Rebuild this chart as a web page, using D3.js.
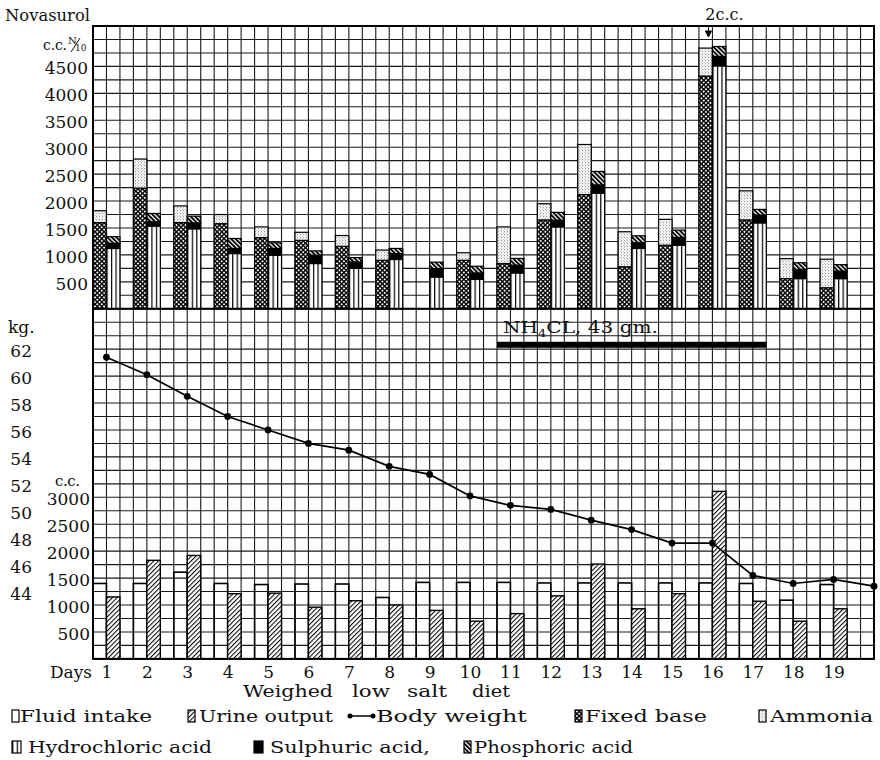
<!DOCTYPE html>
<html>
<head>
<meta charset="utf-8">
<script src="https://cdn.jsdelivr.net/npm/d3@7/dist/d3.min.js"></script>
<style>
  body { margin: 0; background: #fff; }
  text { font-family: "DejaVu Serif", serif; fill: #111; }
</style>
</head>
<body>
<svg id="chart" width="880" height="760"></svg>
<script>
// ---- data ----
var days = d3.range(1, 20);
// urine, c.c. N/10 (top panel)
var fixedBase = [1600, 2240, 1600, 1580, 1320, 1270, 1160, 900, 0, 900, 840, 1650, 2120, 780, 1180, 4320, 1650, 560, 390];
var ammonia   = [220, 540, 310, 170, 200, 150, 200, 190, 0, 140, 680, 300, 930, 650, 480, 520, 540, 370, 530];
var hydrochloric = [1120, 1535, 1485, 1025, 995, 840, 750, 915, 590, 545, 665, 1520, 2145, 1120, 1180, 4510, 1595, 560, 560];
var sulphuric    = [95, 80, 110, 95, 125, 155, 120, 110, 155, 120, 145, 125, 155, 105, 145, 175, 145, 170, 140];
var phosphoric   = [125, 155, 125, 185, 105, 80, 80, 95, 120, 125, 125, 145, 250, 130, 135, 185, 105, 125, 120];
var topTicks = [500, 1000, 1500, 2000, 2500, 3000, 3500, 4000, 4500];
// body weight, kg (day 1 .. day 20)
var weight = [61.4, 60.1, 58.5, 57.0, 56.0, 55.0, 54.5, 53.3, 52.7, 51.1, 50.4, 50.1, 49.3, 48.6, 47.6, 47.6, 45.2, 44.6, 44.9, 44.4];
var kgTicks = [44, 46, 48, 50, 52, 54, 56, 58, 60, 62];
// fluid balance, c.c.
var fluidIntake = [1400, 1400, 1610, 1400, 1380, 1390, 1390, 1140, 1420, 1420, 1420, 1410, 1410, 1410, 1410, 1410, 1400, 1090, 1380];
var urineOutput = [1150, 1830, 1920, 1210, 1220, 960, 1080, 1000, 900, 700, 840, 1170, 1760, 930, 1210, 3110, 1070, 700, 930];
var ccTicks = [500, 1000, 1500, 2000, 2500, 3000];
var nh4clDays = [11, 17];
var novasurolDay = 16;

// ---- layout ----
var svg = d3.select("#chart");
var gLeft = 93, gRight = 874, gTop = 26;
var cell = (gRight - gLeft) / 58;
var midY = gTop + 21 * cell, gBottom = gTop + 47 * cell;

var x = d3.scaleLinear().domain([2 / 3, 20]).range([gLeft, gRight]);
var yTop = d3.scaleLinear().domain([0, 5250]).range([midY, gTop]);
var yKg = d3.scaleLinear().domain([39, 65]).range([gBottom, midY]);
var yCc = d3.scaleLinear().domain([0, 6500]).range([gBottom, midY]);

// ---- patterns ----
var defs = svg.append("defs");
function hatch(id, angle, size, lw, dark) {
  var p = defs.append("pattern").attr("id", id)
    .attr("patternUnits", "userSpaceOnUse")
    .attr("width", size).attr("height", size)
    .attr("patternTransform", "rotate(" + angle + ")");
  p.append("rect").attr("width", size).attr("height", size).attr("fill", "#fff");
  p.append("rect").attr("width", lw).attr("height", size).attr("fill", dark);
  return p;
}
var pf = hatch("pFixed", 45, 3.2, 1.4, "#000");
pf.append("rect").attr("width", 3.2).attr("height", 1.4).attr("fill", "#000");
hatch("pUrine", 45, 3.3, 1.0, "#000");
hatch("pPhos", -45, 3.2, 1.9, "#000");

var pv = defs.append("pattern").attr("id", "pHcl")
  .attr("patternUnits", "userSpaceOnUse")
  .attr("x", x(1)).attr("width", cell / 3).attr("height", 10);
pv.append("rect").attr("width", cell / 3).attr("height", 10).attr("fill", "#fff");
pv.append("rect").attr("width", 1.2).attr("height", 10).attr("fill", "#000");

var ps = defs.append("pattern").attr("id", "pAmm")
  .attr("patternUnits", "userSpaceOnUse").attr("width", 3).attr("height", 3);
ps.append("rect").attr("width", 3).attr("height", 3).attr("fill", "#fff");
ps.append("circle").attr("cx", 0.7).attr("cy", 0.7).attr("r", 0.55).attr("fill", "#444");
ps.append("circle").attr("cx", 2.2).attr("cy", 2.2).attr("r", 0.45).attr("fill", "#666");

// ---- grid ----
var grid = svg.append("g").attr("stroke", "#1a1a1a").attr("stroke-width", 1.1);
grid.selectAll("line.v")
  .data(d3.range(0, 59).map(function (c) { return 2 / 3 + c / 3; }))
  .enter().append("line")
  .attr("x1", function (d) { return x(d); }).attr("x2", function (d) { return x(d); })
  .attr("y1", gTop).attr("y2", gBottom);
grid.selectAll("line.ht")
  .data(d3.range(0, 5251, 250))
  .enter().append("line")
  .attr("x1", gLeft).attr("x2", gRight)
  .attr("y1", function (d) { return yTop(d); }).attr("y2", function (d) { return yTop(d); });
grid.selectAll("line.hb")
  .data(d3.range(0, 6501, 250))
  .enter().append("line")
  .attr("x1", gLeft).attr("x2", gRight)
  .attr("y1", function (d) { return yCc(d); }).attr("y2", function (d) { return yCc(d); });

// ---- top panel stacked bars ----
var baseRows = days.map(function (d, i) { return { day: d, fixed: fixedBase[i], ammonia: ammonia[i] }; });
var acidRows = days.map(function (d, i) { return { day: d, hcl: hydrochloric[i], so4: sulphuric[i], po4: phosphoric[i] }; });
var baseStack = d3.stack().keys(["fixed", "ammonia"])(baseRows);
var acidStack = d3.stack().keys(["hcl", "so4", "po4"])(acidRows);
var fills = { fixed: "url(#pFixed)", ammonia: "url(#pAmm)", hcl: "url(#pHcl)", so4: "#000", po4: "url(#pPhos)" };

function drawStack(series, offset) {
  svg.append("g").selectAll("g").data(series).enter().append("g")
    .attr("fill", function (s) { return fills[s.key]; })
    .selectAll("rect")
    .data(function (s) { return s.filter(function (seg) { return seg[1] > seg[0]; }); })
    .enter().append("rect")
    .attr("x", function (seg) { return x(seg.data.day + offset); })
    .attr("width", cell)
    .attr("y", function (seg) { return yTop(seg[1]); })
    .attr("height", function (seg) { return yTop(seg[0]) - yTop(seg[1]); })
    .attr("stroke", "#000").attr("stroke-width", 1.2);
}
drawStack(baseStack, -1 / 3);
drawStack(acidStack, 0);

// ---- bottom panel bars ----
svg.append("g").selectAll("rect").data(fluidIntake).enter().append("rect")
  .attr("x", function (v, i) { return x(days[i] - 1 / 3); })
  .attr("width", cell)
  .attr("y", function (v) { return yCc(v); })
  .attr("height", function (v) { return yCc(0) - yCc(v); })
  .attr("fill", "none").attr("stroke", "#000").attr("stroke-width", 1.6);
svg.append("g").selectAll("rect").data(urineOutput).enter().append("rect")
  .attr("x", function (v, i) { return x(days[i]); })
  .attr("width", cell)
  .attr("y", function (v) { return yCc(v); })
  .attr("height", function (v) { return yCc(0) - yCc(v); })
  .attr("fill", "url(#pUrine)").attr("stroke", "#000").attr("stroke-width", 1.4);

// ---- body weight ----
var line = d3.line().x(function (v, i) { return x(i + 1); }).y(function (v) { return yKg(v); });
svg.append("path").datum(weight).attr("d", line)
  .attr("fill", "none").attr("stroke", "#000").attr("stroke-width", 1.7);
svg.append("g").selectAll("circle").data(weight).enter().append("circle")
  .attr("cx", function (v, i) { return x(i + 1); })
  .attr("cy", function (v) { return yKg(v); })
  .attr("r", 3.4).attr("fill", "#000");

// ---- frame ----
var frame = svg.append("g").attr("fill", "none").attr("stroke", "#000").attr("stroke-width", 2);
frame.append("rect").attr("x", gLeft).attr("y", gTop).attr("width", gRight - gLeft).attr("height", gBottom - gTop);
frame.append("line").attr("x1", gLeft).attr("x2", gRight).attr("y1", midY).attr("y2", midY);

// ---- NH4Cl period ----
svg.append("rect")
  .attr("x", x(nh4clDays[0] - 1 / 3)).attr("width", x(nh4clDays[1] + 1 / 3) - x(nh4clDays[0] - 1 / 3))
  .attr("y", midY + 33).attr("height", 6).attr("fill", "#000");
var nh = svg.append("text").attr("x", x(nh4clDays[0] - 1 / 3) + 6).attr("y", midY + 24)
  .attr("font-size", 17).attr("textLength", 155).attr("lengthAdjust", "spacingAndGlyphs");
nh.append("tspan").text("NH");
nh.append("tspan").attr("font-size", 11).attr("dy", 4).text("4");
nh.append("tspan").attr("dy", -4).text("CL,  43 gm.");

// ---- Novasurol injection ----
var nx = x(novasurolDay);
svg.append("text").attr("x", nx + 12).attr("y", 20).attr("text-anchor", "middle")
  .attr("font-size", 16).text("2c.c.");
svg.append("path")
  .attr("d", "M" + (nx - 4) + "," + (gTop + 1) + "V" + (gTop + 6)
    + "M" + (nx - 7) + "," + (gTop + 5) + "H" + (nx - 1) + "L" + (nx - 4) + "," + (gTop + 11) + "Z")
  .attr("stroke", "#000").attr("stroke-width", 1).attr("fill", "#000");

// ---- axes ----
function styleAxis(g, size, dy) {
  g.select(".domain").remove();
  g.selectAll("text").attr("font-size", size).attr("fill", "#111").attr("y", dy);
}
var plain = d3.format("d");
svg.append("g").attr("transform", "translate(" + gLeft + ",0)")
  .call(d3.axisLeft(yTop).tickValues(topTicks).tickFormat(plain).tickSize(0).tickPadding(5))
  .call(styleAxis, 17, 2);
svg.append("g").attr("transform", "translate(32,0)")
  .call(d3.axisLeft(yKg).tickValues(kgTicks).tickFormat(plain).tickSize(0).tickPadding(0))
  .call(styleAxis, 17, 2);
svg.append("g").attr("transform", "translate(" + gLeft + ",0)")
  .call(d3.axisLeft(yCc).tickValues(ccTicks).tickFormat(plain).tickSize(0).tickPadding(3))
  .call(styleAxis, 17, 2);
var xAxis = svg.append("g").attr("transform", "translate(0," + gBottom + ")")
  .call(d3.axisBottom(x).tickValues(days).tickFormat(plain).tickSize(0).tickPadding(7));
xAxis.select(".domain").remove();
xAxis.selectAll("text").attr("font-size", 17).attr("fill", "#111");

// ---- axis titles ----
svg.append("text").attr("x", 5).attr("y", 21).attr("font-size", 17)
  .attr("textLength", 85).attr("lengthAdjust", "spacingAndGlyphs").text("Novasurol");
svg.append("text").attr("x", 43).attr("y", 50).attr("font-size", 14).attr("textLength", 24).text("c.c.");
svg.append("text").attr("x", 68).attr("y", 44).attr("font-size", 10).text("N");
svg.append("line").attr("x1", 71).attr("y1", 52).attr("x2", 80).attr("y2", 38).attr("stroke", "#111").attr("stroke-width", 1);
svg.append("text").attr("x", 75).attr("y", 51).attr("font-size", 9).text("10");
svg.append("text").attr("x", 8).attr("y", 333).attr("font-size", 17).text("kg.");
svg.append("text").attr("x", 55).attr("y", 486).attr("font-size", 15).attr("textLength", 25).text("c.c.");
svg.append("text").attr("x", 92).attr("y", 678).attr("text-anchor", "end").attr("font-size", 17).text("Days");
var dietWords = [["Weighed", 243, 90], ["low", 352, 38], ["salt", 407, 40], ["diet", 472, 38]];
svg.append("g").selectAll("text").data(dietWords).enter().append("text")
  .attr("x", function (w) { return w[1]; }).attr("y", 697)
  .attr("font-size", 16).attr("textLength", function (w) { return w[2]; })
  .attr("lengthAdjust", "spacingAndGlyphs")
  .text(function (w) { return w[0]; });

// ---- legend ----
var legend = [
  { label: "Fluid intake", fill: "none", bx: 12, tx: 20, tw: 132, row: 0 },
  { label: "Urine output", fill: "url(#pUrine)", bx: 188, tx: 199, tw: 134, row: 0 },
  { label: "Body weight", fill: "line", bx: 347, tx: 376, tw: 151, row: 0 },
  { label: "Fixed base", fill: "url(#pFixed)", bx: 575, tx: 585, tw: 122, row: 0 },
  { label: "Ammonia", fill: "url(#pAmm)", bx: 759, tx: 770, tw: 103, row: 0 },
  { label: "Hydrochloric acid", fill: "url(#pHcl)", bx: 12, tx: 28, tw: 184, row: 1 },
  { label: "Sulphuric acid,", fill: "#000", bx: 254, tx: 270, tw: 160, row: 1 },
  { label: "Phosphoric acid", fill: "url(#pPhos)", bx: 464, tx: 474, tw: 159, row: 1 }
];
var rowY = [722, 753];
var li = svg.append("g").selectAll("g").data(legend).enter().append("g");
li.filter(function (d) { return d.fill !== "line"; }).append("rect")
  .attr("x", function (d) { return d.bx; })
  .attr("y", function (d) { return rowY[d.row] - 12; })
  .attr("width", function (d) { return d.row === 1 && d.fill !== "url(#pPhos)" ? 9 : 7; }).attr("height", 12)
  .attr("fill", function (d) { return d.fill === "none" ? "#fff" : d.fill; })
  .attr("stroke", "#000").attr("stroke-width", 1.2);
var lw = li.filter(function (d) { return d.fill === "line"; });
lw.append("line")
  .attr("x1", function (d) { return d.bx + 3; }).attr("x2", function (d) { return d.bx + 25; })
  .attr("y1", function (d) { return rowY[d.row] - 6; }).attr("y2", function (d) { return rowY[d.row] - 6; })
  .attr("stroke", "#000").attr("stroke-width", 1.5);
lw.selectAll("circle").data(function (d) { return [[d.bx + 3, rowY[d.row] - 6], [d.bx + 26, rowY[d.row] - 6]]; })
  .enter().append("circle")
  .attr("cx", function (p) { return p[0]; }).attr("cy", function (p) { return p[1]; })
  .attr("r", 2.5).attr("fill", "#000");
li.append("text")
  .attr("x", function (d) { return d.tx; })
  .attr("y", function (d) { return rowY[d.row]; })
  .attr("font-size", 17)
  .attr("textLength", function (d) { return d.tw; })
  .attr("lengthAdjust", "spacingAndGlyphs")
  .text(function (d) { return d.label; });
</script>
</body>
</html>
